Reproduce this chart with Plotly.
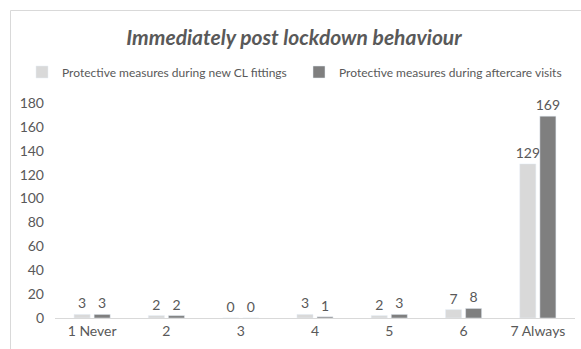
import plotly.graph_objects as go

categories = ["1 Never", "2", "3", "4", "5", "6", "7 Always"]
new_fittings = [3, 2, 0, 3, 2, 7, 129]
aftercare = [3, 2, 0, 1, 3, 8, 169]
series_names = ["Protective measures during new CL fittings",
                "Protective measures during aftercare visits"]

W, H = 581, 349
L, R, T, B = 55, 6, 103, 31
pw, ph = W - L - R, H - T - B

font_fam = "Lato, Open Sans, sans-serif"
txt = "#595959"

fig = go.Figure()
fig.add_trace(go.Bar(x=categories, y=new_fittings, name=series_names[0],
                     marker_color="#D9D9D9", text=new_fittings, textposition="outside",
                     constraintext="none",
                     textfont=dict(size=14, color=txt), cliponaxis=False))
fig.add_trace(go.Bar(x=categories, y=aftercare, name=series_names[1],
                     marker_color="#7F7F7F", text=aftercare, textposition="outside",
                     constraintext="none",
                     textfont=dict(size=14, color=txt), cliponaxis=False))

def px_x(p):
    return (p - L) / pw
def px_y(p):
    return (H - B - p) / ph

fig.update_layout(
    width=W, height=H,
    margin=dict(l=L, r=R, t=T, b=B, autoexpand=False),
    paper_bgcolor="white", plot_bgcolor="white",
    font=dict(family=font_fam, color=txt, size=14),
    title=dict(text="<b><i>Immediately post lockdown behaviour</i></b>",
               x=294 / W, xanchor="center", y=1 - 38 / H, yanchor="middle",
               xref="container", yref="container",
               font=dict(size=21, color="#595959", family=font_fam)),
    legend=dict(orientation="h", x=px_x(22), xanchor="left", y=px_y(72), yanchor="middle",
                xref="paper", yref="paper",
                font=dict(size=12, color=txt), traceorder="normal",
                entrywidth=232, entrywidthmode="pixels",
                itemwidth=30, tracegroupgap=0),
    barmode="group", bargap=0.46, bargroupgap=0.2,
    showlegend=True,
    xaxis=dict(showline=True, linecolor="#D9D9D9", linewidth=1, ticks="",
               automargin=False, tickfont=dict(size=14, color=txt)),
    yaxis=dict(range=[0, 180], dtick=20, showgrid=False, zeroline=False,
               automargin=False, ticklabelstandoff=10,
               showline=False, ticks="", tickfont=dict(size=14, color=txt)),
    shapes=[dict(type="rect", xref="paper", yref="paper",
                 x0=px_x(10.5), x1=px_x(W + 5), y0=px_y(H + 5), y1=px_y(10.5),
                 line=dict(color="#D9D9D9", width=1), fillcolor="rgba(0,0,0,0)",
                 layer="below")],
)

fig.write_html("out.html", config={"displayModeBar": False},
               post_script="document.body.style.margin='0';document.body.style.overflow='hidden';")
